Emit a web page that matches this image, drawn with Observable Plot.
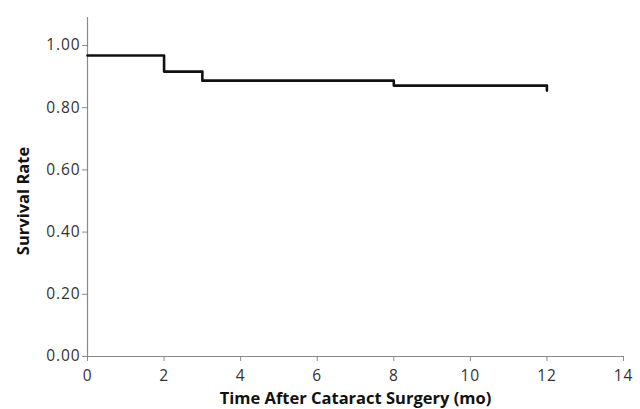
<!DOCTYPE html>
<html>
<head>
<meta charset="utf-8">
<script src="https://cdn.jsdelivr.net/npm/d3@7"></script>
<script src="https://cdn.jsdelivr.net/npm/@observablehq/plot@0.6"></script>
<style>
  html, body { margin: 0; padding: 0; background: #fff; }
  svg { display: block; }
  g[aria-label$="tick label"], g[aria-label$="tick label"] text { font-size: 15.5px; letter-spacing: 0.9px; }
</style>
</head>
<body>
<div id="chart"></div>
<script>
const months = [0, 2, 3, 8, 12];
const survival = [0.968, 0.916, 0.887, 0.871, 0.855];
const xTicks = [0, 2, 4, 6, 8, 10, 12, 14];
const yTicks = [0, 0.2, 0.4, 0.6, 0.8, 1.0];
const xLabel = "Time After Cataract Surgery (mo)";
const yLabel = "Survival Rate";

const data = months.map((m, i) => ({month: m, rate: survival[i]}));
const axisGray = "#8a8a8a";
const textCol = "#333";

const chart = Plot.plot({
  width: 640,
  height: 409,
  marginLeft: 87,
  marginRight: 17,
  marginTop: 17,
  marginBottom: 53,
  style: {fontFamily: "'Open Sans', sans-serif", fontSize: "15px", color: textCol, background: "#fff"},
  x: {domain: [0, 14]},
  y: {domain: [0, 1.09]},
  marks: [
    Plot.ruleY([0], {stroke: axisGray, strokeWidth: 1.2}),
    Plot.ruleX([0], {stroke: axisGray, strokeWidth: 1.2}),
    Plot.axisX({ticks: xTicks, tickSize: 5, tickPadding: 8, stroke: axisGray, fill: textCol, label: null}),
    Plot.axisY({ticks: yTicks, tickSize: 5, tickPadding: 2, tickFormat: d3.format(".2f"), stroke: axisGray, fill: textCol, label: null}),
    Plot.line(data, {x: "month", y: "rate", curve: "step-after", stroke: "#111", strokeWidth: 2.6}),
    Plot.text([xLabel], {frameAnchor: "bottom", dy: 47, text: d => d, fontWeight: "bold", fontSize: 16.5, fill: "#111"}),
    Plot.text([yLabel], {x: 0, y: d3.mean(d3.extent(yTicks)), rotate: -90, dx: -64, text: d => d, fontWeight: "bold", fontSize: 16.5, fill: "#111"})
  ]
});
document.getElementById("chart").appendChild(chart);
</script>
</body>
</html>
